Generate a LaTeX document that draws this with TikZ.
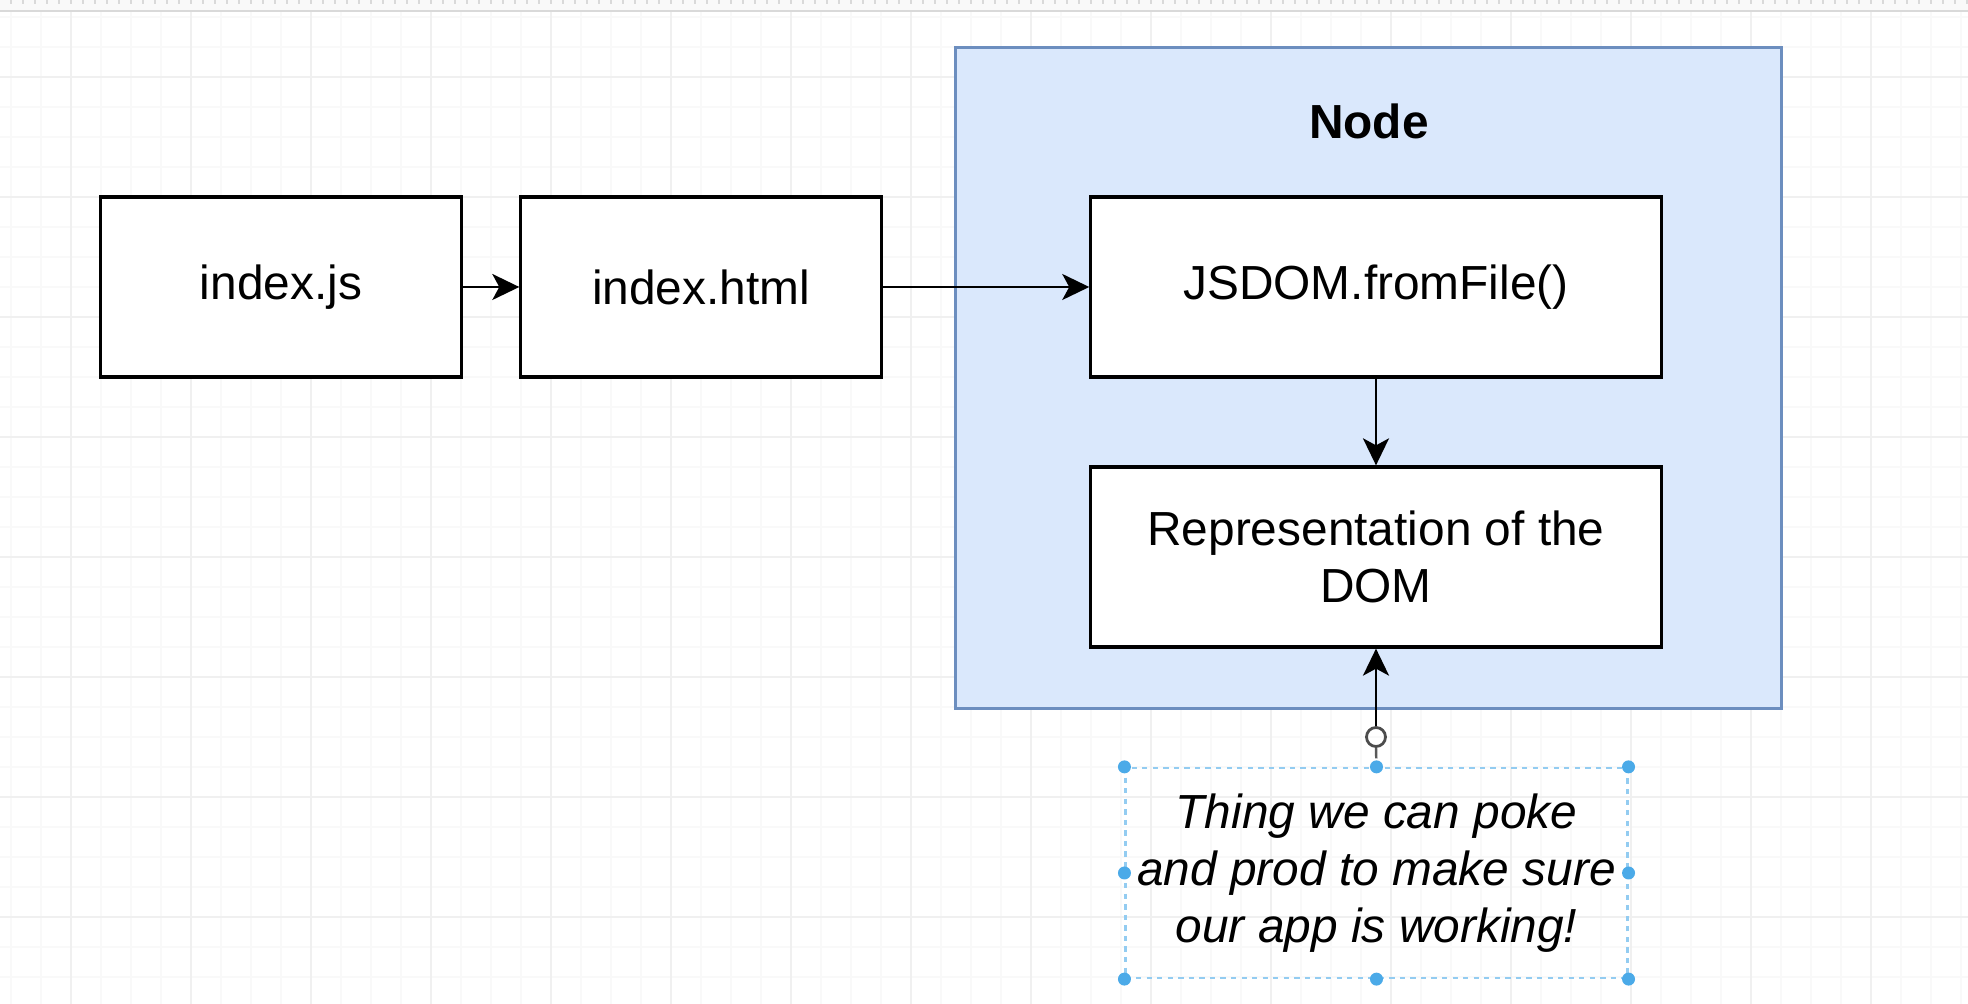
\documentclass[tikz,border=0pt]{standalone}
\usepackage{fontspec}
\setmainfont{Liberation Sans}
\usetikzlibrary{arrows.meta}
\definecolor{nodefill}{RGB}{218,232,252}
\definecolor{nodeline}{RGB}{108,142,191}
\definecolor{handle}{RGB}{75,170,232}
\definecolor{minorgrid}{RGB}{249,249,249}
\definecolor{majorgrid}{RGB}{240,240,240}
\tikzset{
  box/.style={draw=black, line width=0.9pt, fill=white, minimum height=1.8cm, align=center, font=\fontsize{13.6}{16}\selectfont},
  flow/.style={line width=0.7pt, -{Stealth[length=0.27cm, width=0.26cm, inset=0.07cm]}}
}
\begin{document}
\begin{tikzpicture}[x=0.01cm, y=-0.01cm]
\useasboundingbox (0,0) rectangle (1968,1004);
% grid and ruler
\foreach \x in {11,41,...,1968} \draw[minorgrid, line width=0.3pt] (\x,12) -- (\x,1004);
\foreach \y in {17,47,...,1004} \draw[minorgrid, line width=0.3pt] (0,\y) -- (1968,\y);
\foreach \x in {71,191,...,1968} \draw[majorgrid, line width=0.4pt] (\x,12) -- (\x,1004);
\foreach \y in {77,197,...,1004} \draw[majorgrid, line width=0.4pt] (0,\y) -- (1968,\y);
\fill[gray!5] (0,0) rectangle (1968,11);
\foreach \x in {11,23,...,1968} \draw[gray!30, line width=0.3pt] (\x,0) -- (\x,4);
\draw[gray!30, line width=0.4pt] (0,11) -- (1968,11);
% container
\node (nodebox) [draw=nodeline, fill=nodefill, line width=0.9pt, minimum width=8.26cm, minimum height=6.6cm] at (1368.5,378) {};
\node (nodetitle) [font=\fontsize{13.6}{16}\selectfont\bfseries] at (1369,121) {Node};
% boxes
\node (indexjs) [box, minimum width=3.6cm] at (281,287) {index.js};
\node (indexhtml) [box, minimum width=3.6cm] at (701,287) {index.html};
\node (fromfile) [box, minimum width=5.7cm] at (1376,287) {JSDOM.fromFile()};
\node (domrep) [box, minimum width=5.7cm] at (1376,557) {Representation of the\\DOM};
% note
\node (note) [draw=handle!60, line width=0.6pt, dash pattern=on 1.5pt off 1.5pt, minimum width=5.01cm, minimum height=2.1cm, align=center, font=\fontsize{13.6}{16.2}\selectfont\itshape] at (1376.5,873) {Thing we can poke\\and prod to make sure\\our app is working!};
\foreach \a in {north west,north,north east,west,east,south west,south,south east}
  \fill[handle] (note.\a) circle (6.5);
\node (grip) [circle, draw=gray!60!black, line width=0.8pt, minimum size=0.19cm, inner sep=0pt] at (1376,737) {};
% arrows
\draw[flow] (indexjs) -- (indexhtml);
\draw[flow] (indexhtml) -- (fromfile);
\draw[flow] (fromfile) -- (domrep);
\draw[flow] (grip) -- (domrep);
\draw[gray!70!black, line width=0.7pt, dashed] (grip.south) -- (note.north);
\end{tikzpicture}
\end{document}
